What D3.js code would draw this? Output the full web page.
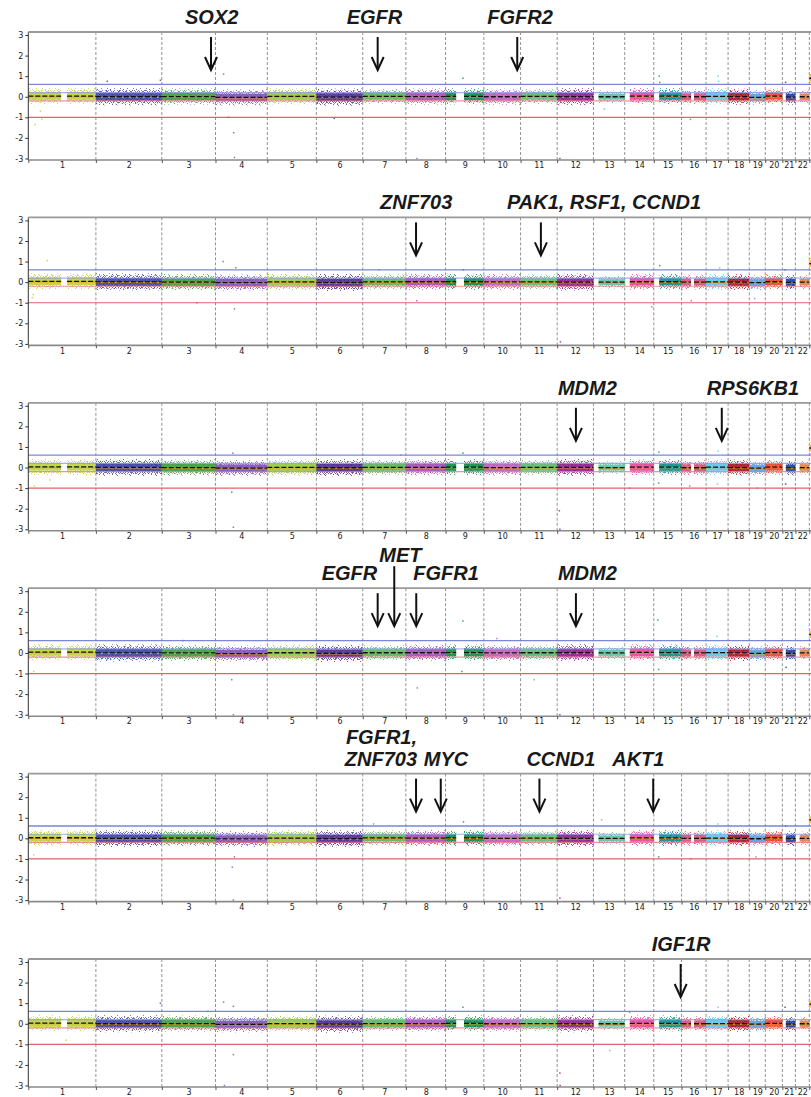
<!DOCTYPE html>
<meta charset="utf-8">
<style>
    body { margin: 0; background: #fff; }
    .tick text { font: 8px "DejaVu Sans", sans-serif; fill: #222; }
    .gene { font: italic bold 20px "Liberation Sans", Arial, sans-serif; fill: #1a1a1a; }
</style>
<body>
<script src="https://d3js.org/d3.v7.min.js"></script>
<script>
    // chromosomes (hg19 lengths, Mb)
    var chromNames = ["1","2","3","4","5","6","7","8","9","10","11","12","13","14","15","16","17","18","19","20","21","22","X"];
    var chromLengths = [249.3,243.2,198.0,191.2,180.9,171.1,159.1,146.4,141.2,135.5,135.0,133.9,115.2,107.3,102.5,90.4,81.2,78.1,59.1,63.0,48.1,51.3,155.3];
    var chromColors = ["#bdd23a","#3b3fa2","#3c9a3a","#7a50b4","#95c840","#4a2a8e","#5ab45a","#a04cb4","#0c8a4a","#b85cbc","#5cb870","#8c1c8c",
                       "#5cc0a8","#e8449c","#0c8c8c","#d0507c","#5cc4ec","#a01428","#5a9cdc","#f0402c","#1c3ca0","#e07c50","#f0b420"];
    // half width of the scatter band per chromosome
    var bandSpread = [0.30,0.32,0.30,0.30,0.30,0.32,0.28,0.30,0.30,0.30,0.28,0.32,0.24,0.30,0.30,0.28,0.30,0.30,0.28,0.28,0.28,0.26,0.28];

    // regions without probes (centromere / p arms)
    var gapChrom = [1, 9, 13, 14, 15, 16, 21, 22];
    var gapStart = [121, 39, 0, 0, 0, 35, 0, 0];
    var gapEnd   = [143, 68, 19, 19, 20, 46, 13, 16];

    // segment means, one row per panel
    var means1 = [0.03,0.00,0.01,-0.03,0.02,-0.02,0.02,0.01,0.02,0.00,0.02,0.00,0.00,0.03,0.03,0.00,0.02,0.00,-0.03,0.03,-0.02,0.00,0.90];
    var means2 = [0.04,0.01,0.00,-0.02,0.01,-0.02,0.01,0.02,0.02,0.01,0.01,0.00,0.00,0.02,0.02,0.00,0.01,0.00,-0.02,0.02,-0.01,0.00,0.90];
    var means3 = [0.03,0.01,0.00,-0.03,0.01,-0.01,0.01,0.01,0.02,0.00,0.01,0.01,0.00,0.02,0.02,-0.01,0.02,0.00,-0.03,0.02,-0.02,0.00,0.95];
    var means4 = [0.04,0.00,0.00,-0.03,0.01,-0.02,0.01,0.01,0.02,0.00,0.01,0.01,0.00,0.03,0.02,0.00,0.02,0.00,-0.02,0.02,-0.02,0.00,0.90];
    var means5 = [0.03,0.00,0.01,-0.03,0.01,-0.02,0.02,0.01,0.02,0.00,0.01,0.00,0.00,0.02,0.02,0.00,0.01,0.00,-0.02,0.02,-0.02,0.00,0.90];
    var means6 = [0.03,0.00,0.01,-0.03,0.01,-0.02,0.01,0.01,0.02,0.00,0.01,0.00,0.00,0.02,0.02,0.00,0.01,0.00,-0.02,0.02,-0.02,0.00,0.95];
    var panelMeans = [means1, means2, means3, means4, means5, means6];

    // scattered single probes: [chromosome, position Mb, log2 ratio]
    var outliers1 = [[1,25,-1.35],[1,50,-1.1],[1,45,-0.7],[2,42,0.75],[2,238,0.8],[4,30,1.1],[4,48,-1.0],[4,67,-1.75],[4,70,-2.95],[6,66,-1.05],
                     [8,41,-3.0],[9,64,0.9],[12,10,-3.0],[15,20,1.0],[15,22,0.7],[16,33,-1.1],[17,44,1.0],[17,46,0.75],[21,12,0.7],[13,40,-0.6]];
    var outliers2 = [[1,70,1.05],[1,15,-0.75],[1,18,-0.6],[3,130,-1.0],[4,28,1.0],[4,70,-1.3],[4,75,0.7],[7,60,0.6],[8,40,-0.9],[9,66,0.6],
                     [12,12,-2.9],[14,100,-1.2],[15,22,0.8],[16,36,-0.9],[17,50,0.7],[19,20,-0.8],[21,10,0.6]];
    var outliers3 = [[1,22,-0.9],[1,80,-0.6],[4,60,-1.2],[4,66,-2.9],[4,64,0.7],[7,140,0.6],[9,64,0.7],[12,8,-2.1],[12,10,-3.0],[14,18,-1.0],
                     [15,18,-0.75],[15,19,0.75],[16,30,-0.9],[17,42,-0.8],[17,44,0.8],[19,30,-1.0],[21,12,-0.8]];
    var outliers4 = [[1,20,-0.9],[4,66,-3.0],[4,60,-1.3],[8,42,-1.7],[9,64,1.55],[9,60,-0.9],[10,48,0.7],[11,50,-1.3],[12,10,-3.0],[15,15,1.6],
                     [15,18,-0.8],[17,40,0.8],[21,14,-0.7],[3,80,0.6]];
    var outliers5 = [[1,20,-0.8],[4,66,-3.0],[4,62,-1.4],[4,70,-0.9],[7,40,0.7],[9,66,0.8],[12,10,-2.9],[13,30,0.9],[15,18,-0.9],[16,34,-1.0],
                     [17,44,0.7],[19,25,-0.9],[21,12,0.6]];
    var outliers6 = [[1,140,-0.8],[1,248,-0.95],[2,238,1.0],[3,170,0.6],[4,30,1.05],[4,66,0.85],[4,66,-1.5],[4,33,-3.0],[8,132,-1.0],[9,64,0.8],
                     [12,10,-2.4],[12,11,-3.0],[13,60,-1.3],[14,18,0.55],[15,18,-1.0],[17,44,0.8],[21,10,0.8]];
    var panelOutliers = [outliers1, outliers2, outliers3, outliers4, outliers5, outliers6];

    // thresholds
    var gainLine = 0.6, lossLine = -1, softGain = 0.2, softLoss = -0.2;
    var yTicks = [-3,-2,-1,0,1,2,3];

    // annotated genes
    var geneNames = ["SOX2","EGFR","FGFR2","ZNF703","PAK1, RSF1, CCND1","MDM2","RPS6KB1","EGFR","MET","FGFR1","MDM2","FGFR1,|ZNF703","MYC","CCND1","AKT1","IGF1R"];
    var genePanel = [0,0,0,1,1,2,2,3,3,3,3,4,4,4,4,5];
    var geneChrom = [3,7,10,8,11,12,17,7,7,8,12,8,8,11,14,15];
    var genePos   = [181.4,55.1,123.2,37.5,75.0,69.2,58.0,55.1,116.3,38.3,69.2,37.5,128.7,69.6,105.2,99.2];

    // label placement relative to its arrow
    var labelAnchor = ["start","start","start","start","start","start","start","start","start","start","start","end","start","start","start","start"];
    var labelDx     = [-26,-31,-30,-36,-34,-18,-15,-56,-15,-3,-18,1,-17,-13,-41,-29];
    var labelLift   = [0,0,0,0,0,0,0,0,18,0,0,0,0,0,0,0];
    var lineGap = 21.5;

    var W = 811, H = 1097;
    var panelTop0 = 32, panelStep = 185.4, plotH = 128;

    var svg = d3.select("body").append("svg")
        .attr("width", W)
        .attr("height", H);

    svg.append("rect").attr("width", W).attr("height", H).attr("fill", "#fff");

    var cumStart = [], acc = 0;
    chromLengths.forEach(function(l) { cumStart.push(acc); acc += l; });
    var autosomeEnd = cumStart[22];

    var x = d3.scaleLinear()
        .domain([0, autosomeEnd])
        .range([28.3, 809.3]);

    function gpos(c, p) { return cumStart[c - 1] + p; }

    // probe covered pieces of each chromosome
    function pieces(ci) {
        var s = 0, out = [];
        gapChrom.forEach(function(g, k) {
            if (g === ci + 1) {
                if (gapStart[k] > s) out.push([s, gapStart[k]]);
                s = gapEnd[k];
            }
        });
        out.push([s, chromLengths[ci]]);
        return out;
    }

    // speckle textures for the fringe of the scatter
    var defs = svg.append("defs");
    function speckle(id, w, h, pts) {
        var pat = defs.append("pattern")
            .attr("id", id + "-p")
            .attr("patternUnits", "userSpaceOnUse")
            .attr("width", w).attr("height", h);
        pat.append("rect").attr("width", w).attr("height", h).attr("fill", "#000");
        pts.forEach(function(p) {
            pat.append("rect").attr("x", p[0]).attr("y", p[1]).attr("width", 1).attr("height", 1).attr("fill", "#fff");
        });
        defs.append("mask")
            .attr("id", id)
            .attr("maskUnits", "userSpaceOnUse")
            .attr("x", 0).attr("y", 0).attr("width", W).attr("height", H)
            .append("rect").attr("width", W).attr("height", H).attr("fill", "url(#" + id + "-p)");
    }
    speckle("dense", 12, 8, [[0,0],[3,0],[5,0],[8,0],[10,0],[1,1],[4,1],[7,1],[11,1],[0,2],[2,2],[6,2],[9,2],
        [3,3],[5,3],[10,3],[11,3],[1,4],[4,4],[7,4],[9,4],[0,5],[2,5],[6,5],[8,5],[3,6],[5,6],[9,6],[11,6],[1,7],[4,7],[7,7],[10,7]]);
    speckle("sparse", 13, 10, [[2,0],[9,1],[1,2],[5,3],[12,4],[8,4],[0,5],[7,6],[11,7],[3,8],[10,8],[6,9]]);

    var boundaries = cumStart.slice(0, 23).concat([autosomeEnd + chromLengths[22]]);
    var centers = chromLengths.slice(0, 22).map(function(l, i) { return cumStart[i] + l / 2; });

    function bandRects(sel, cls, segs, k, y) {
        return sel.selectAll("." + cls)
            .data(segs)
            .enter().append("rect")
            .attr("class", cls)
            .attr("x", function(d) { return x(gpos(d.c + 1, d.s)); })
            .attr("width", function(d) { return x(gpos(d.c + 1, d.e)) - x(gpos(d.c + 1, d.s)); })
            .attr("y", function(d) { return y(d.m + bandSpread[d.c] * k); })
            .attr("height", function(d) { return y(d.m - bandSpread[d.c] * k) - y(d.m + bandSpread[d.c] * k); })
            .attr("fill", function(d) { return chromColors[d.c]; });
    }

    panelMeans.forEach(function(means, pi) {
        var top = panelTop0 + pi * panelStep;
        var y = d3.scaleLinear().domain([-3, 3]).range([top + 126.5, top + 3]);
        var g = svg.append("g");

        // chromosome separators
        g.selectAll(".sep")
            .data(boundaries.slice(1))
            .enter().append("line")
            .attr("x1", function(d) { return x(d); })
            .attr("x2", function(d) { return x(d); })
            .attr("y1", top).attr("y2", top + plotH)
            .attr("stroke", "#777")
            .attr("stroke-width", 0.8)
            .attr("stroke-dasharray", "3,2");

        var segs = [];
        chromLengths.forEach(function(l, ci) {
            pieces(ci).forEach(function(p) {
                segs.push({ c: ci, s: p[0], e: p[1], m: means[ci] });
            });
        });

        // scatter band: sparse outer fringe, dense fringe, solid core
        bandRects(g.append("g").attr("mask", "url(#sparse)").attr("opacity", 0.8), "outer", segs, 1.3, y);
        bandRects(g.append("g").attr("mask", "url(#dense)").attr("opacity", 0.75), "mid", segs, 1.0, y);
        bandRects(g.append("g").attr("opacity", 0.85), "core", segs, 0.6, y);

        // single probes
        g.selectAll(".pt")
            .data(panelOutliers[pi])
            .enter().append("rect")
            .attr("x", function(d) { return x(gpos(d[0], d[1])) - 0.75; })
            .attr("y", function(d) { return y(d[2]) - 0.75; })
            .attr("width", 1.5).attr("height", 1.5)
            .attr("fill", function(d) { return chromColors[d[0] - 1]; })
            .attr("opacity", 0.8);

        // thresholds
        [[softGain, "#8a96e0", 1.2, 0.75], [softLoss, "#e87080", 1.2, 0.75], [gainLine, "#6c7ad4", 1.3, 0.9], [lossLine, "#e0505e", 1.2, 0.9]]
            .forEach(function(t) {
                g.append("line")
                    .attr("x1", x(0)).attr("x2", W)
                    .attr("y1", y(t[0])).attr("y2", y(t[0]))
                    .attr("stroke", t[1]).attr("stroke-width", t[2]).attr("opacity", t[3]);
            });

        // segment calls
        g.selectAll(".smooth")
            .data(segs)
            .enter().append("line")
            .attr("x1", function(d) { return x(gpos(d.c + 1, d.s)); })
            .attr("x2", function(d) { return x(gpos(d.c + 1, d.e)); })
            .attr("y1", function(d) { return y(d.m - 0.03); })
            .attr("y2", function(d) { return y(d.m - 0.03); })
            .attr("stroke", "#f0a010").attr("stroke-width", 0.9);
        g.selectAll(".seg")
            .data(segs)
            .enter().append("line")
            .attr("x1", function(d) { return x(gpos(d.c + 1, d.s)); })
            .attr("x2", function(d) { return x(gpos(d.c + 1, d.e)); })
            .attr("y1", function(d) { return y(d.m); })
            .attr("y2", function(d) { return y(d.m); })
            .attr("stroke", "#111").attr("stroke-width", 1.3)
            .attr("stroke-dasharray", "5,2");

        // axes
        var yAxis = d3.axisLeft(y).tickValues(yTicks).tickSize(3).tickPadding(2)
            .tickFormat(function(d) { return String(d); });
        var ya = g.append("g")
            .attr("transform", "translate(" + x(0) + ",0)")
            .call(yAxis);
        ya.select(".domain").attr("stroke", "#333").attr("d", "M0," + top + "V" + (top + plotH));
        ya.selectAll(".tick line").attr("stroke", "#333");

        var xa = g.append("g")
            .attr("transform", "translate(0," + (top + plotH) + ")")
            .call(d3.axisBottom(x).tickValues(boundaries).tickSize(3).tickFormat(""));
        xa.select(".domain").attr("stroke", "#8a8a8a").attr("stroke-width", 1.6)
            .attr("d", "M" + x(0) + ",0H" + W);
        xa.selectAll(".tick line").attr("stroke", "#555");

        var xl = g.append("g")
            .attr("transform", "translate(0," + (top + plotH) + ")")
            .call(d3.axisBottom(x).tickValues(centers).tickSize(0).tickPadding(2.5)
                .tickFormat(function(d, i) { return chromNames[i]; }));
        xl.select(".domain").remove();

        g.append("line")
            .attr("x1", x(0)).attr("x2", W)
            .attr("y1", top).attr("y2", top)
            .attr("stroke", "#999").attr("stroke-width", 1.8);
    });

    // gene arrows and labels
    geneNames.forEach(function(name, k) {
        var top = panelTop0 + genePanel[k] * panelStep;
        var ax = x(gpos(geneChrom[k], genePos[k]));
        var lift = labelLift[k];

        svg.append("line")
            .attr("x1", ax).attr("x2", ax)
            .attr("y1", lift ? top - lift - 4 : top + 5).attr("y2", top + 37)
            .attr("stroke", "#111").attr("stroke-width", 2);
        svg.append("path")
            .attr("d", "M" + (ax - 6) + "," + (top + 25) + "L" + ax + "," + (top + 38) + "L" + (ax + 6) + "," + (top + 25))
            .attr("fill", "none").attr("stroke", "#111").attr("stroke-width", 2);

        var lines = name.split("|");
        lines.forEach(function(t, j) {
            svg.append("text")
                .attr("class", "gene")
                .attr("x", ax + labelDx[k])
                .attr("y", top - 8 - lift - (lines.length - 1 - j) * lineGap)
                .attr("text-anchor", labelAnchor[k])
                .text(t);
        });
    });
</script>
